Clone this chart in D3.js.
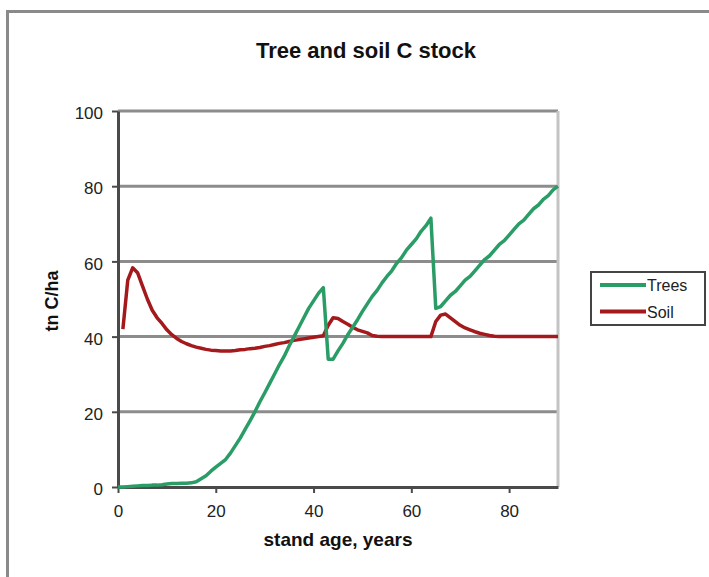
<!DOCTYPE html>
<html>
<head>
<meta charset="utf-8">
<script src="https://cdn.jsdelivr.net/npm/d3@7"></script>
<style>
  body { margin: 0; background: #fff; }
  svg { display: block; font-family: Arial, "Liberation Sans", sans-serif; }
</style>
</head>
<body>
<div id="chart"></div>
<script>
// stand age, years (annual steps)
var ages = [0, 1, 2, 3, 4, 5, 6, 7, 8, 9, 10, 11, 12, 13, 14, 15, 16, 17, 18, 19,
    20, 21, 22, 23, 24, 25, 26, 27, 28, 29, 30, 31, 32, 33, 34, 35, 36, 37, 38, 39,
    40, 41, 42, 43, 44, 45, 46, 47, 48, 49, 50, 51, 52, 53, 54, 55, 56, 57, 58, 59,
    60, 61, 62, 63, 64, 65, 66, 67, 68, 69, 70, 71, 72, 73, 74, 75, 76, 77, 78, 79,
    80, 81, 82, 83, 84, 85, 86, 87, 88, 89, 90];

// tree C stock, tn C/ha
var treesC = [0, 0, 0.1, 0.2, 0.3, 0.4, 0.4, 0.5, 0.5, 0.6, 0.8, 0.9, 0.9, 1.0, 1.0, 1.1, 1.4, 2.2, 3.0, 4.2,
    5.3, 6.3, 7.3, 9.0, 11.0, 13.0, 15.3, 17.6, 20.0, 22.6, 25.0, 27.5, 30.0, 32.5, 34.8, 37.5, 40.0, 42.5, 45.0, 47.5,
    49.5, 51.5, 53.0, 34.0, 34.0, 36.2, 38.2, 40.5, 42.5, 44.5, 46.7, 48.7, 50.7, 52.3, 54.3, 56.0, 57.5, 59.5, 61.0, 63.0,
    64.5, 66.0, 68.0, 69.5, 71.5, 47.5, 48.0, 49.5, 51.0, 52.0, 53.5, 55.0, 56.0, 57.5, 59.0, 60.5, 61.5, 63.0, 64.5, 65.5,
    67.0, 68.5, 70.0, 71.0, 72.5, 74.0, 75.0, 76.5, 77.5, 79.0, 80.0];

// soil C stock, tn C/ha (no value at age 0)
var soilC = [null, 42, 55, 58.3, 57, 53.5, 50, 47, 45, 43.5, 41.8, 40.5, 39.5, 38.7, 38.1, 37.6, 37.2, 36.9, 36.6, 36.4,
    36.3, 36.2, 36.2, 36.2, 36.3, 36.5, 36.6, 36.8, 36.9, 37.1, 37.4, 37.6, 37.9, 38.2, 38.4, 38.7, 39.0, 39.2, 39.4, 39.6,
    39.8, 40.0, 40.2, 43.0, 45.0, 44.8, 44.0, 43.3, 42.5, 41.8, 41.4, 41.0, 40.3, 40.1, 40, 40, 40, 40, 40, 40,
    40, 40, 40, 40, 40, 44.0, 45.7, 46.0, 45.0, 44.0, 43.0, 42.3, 41.8, 41.3, 40.9, 40.6, 40.3, 40.1, 40, 40,
    40, 40, 40, 40, 40, 40, 40, 40, 40, 40, 40];

var seriesNames = ["Trees", "Soil"];
var seriesColors = ["#2a9d66", "#a3191c"];
var xTicks = [0, 20, 40, 60, 80];
var yTicks = [0, 20, 40, 60, 80, 100];

var svgWidth = 709;
var svgHeight = 577;

var margin = {
    top: 111,
    left: 118,
    right: 151,
    bottom: 90
};

var width = svgWidth - margin.left - margin.right;
var height = svgHeight - margin.top - margin.bottom;

var svg = d3.select("#chart")
    .append("svg")
    .attr("width", svgWidth)
    .attr("height", svgHeight);

// outer chart frame (runs off the right and bottom edges)
svg.append("rect")
    .attr("x", 7.5)
    .attr("y", 11.5)
    .attr("width", 760)
    .attr("height", 640)
    .attr("fill", "none")
    .attr("stroke", "#8a8a8a")
    .attr("stroke-width", 3);

var chartGroup = svg.append("g")
    .attr("transform", `translate(${margin.left}, ${margin.top})`);

var xScale = d3.scaleLinear()
    .domain([0, 90])
    .range([0, width]);

var yScale = d3.scaleLinear()
    .domain([0, 100])
    .range([height, 0]);

// horizontal gridlines
chartGroup.append("g")
    .selectAll("line")
    .data(yTicks.filter(d => d > 0))
    .enter()
    .append("line")
    .attr("x1", 0)
    .attr("x2", width)
    .attr("y1", d => yScale(d))
    .attr("y2", d => yScale(d))
    .attr("stroke", "#8c8c8c")
    .attr("stroke-width", 3);

// right border of plot area
chartGroup.append("line")
    .attr("x1", width)
    .attr("x2", width)
    .attr("y1", yScale(100))
    .attr("y2", yScale(0))
    .attr("stroke", "#c4c4c4")
    .attr("stroke-width", 3);

// axes
var bottomAxis = d3.axisBottom(xScale)
    .tickValues(xTicks)
    .tickSizeInner(6)
    .tickSizeOuter(0)
    .tickPadding(12);

var leftAxis = d3.axisLeft(yScale)
    .tickValues(yTicks)
    .tickSizeInner(6)
    .tickSizeOuter(0)
    .tickPadding(9);

var xAxis = chartGroup.append("g")
    .attr("transform", `translate(0, ${height})`)
    .call(bottomAxis);

var yAxis = chartGroup.append("g")
    .call(leftAxis);

[xAxis, yAxis].forEach(function (ax) {
    ax.select(".domain")
        .attr("stroke", "#4a4a4a")
        .attr("stroke-width", 3);
    ax.selectAll(".tick line")
        .attr("stroke", "#4a4a4a")
        .attr("stroke-width", 2);
    ax.selectAll(".tick text")
        .attr("fill", "#222")
        .style("font-size", "17px")
        .style("font-family", "Arial, 'Liberation Sans', sans-serif");
});

yAxis.selectAll(".tick text").attr("dy", "0.45em");

// series lines
var treeLine = d3.line()
    .x((d, i) => xScale(ages[i]))
    .y(d => yScale(d));

var soilLine = d3.line()
    .defined(d => d !== null)
    .x((d, i) => xScale(ages[i]))
    .y(d => yScale(d));

chartGroup.append("path")
    .datum(soilC)
    .attr("d", soilLine)
    .attr("fill", "none")
    .attr("stroke", seriesColors[1])
    .attr("stroke-width", 3.5)
    .attr("stroke-linejoin", "round");

chartGroup.append("path")
    .datum(treesC)
    .attr("d", treeLine)
    .attr("fill", "none")
    .attr("stroke", seriesColors[0])
    .attr("stroke-width", 3.5)
    .attr("stroke-linejoin", "round");

// title
svg.append("text")
    .attr("x", 366)
    .attr("y", 58)
    .attr("text-anchor", "middle")
    .style("font-size", "22px")
    .style("font-weight", "bold")
    .attr("fill", "#111")
    .text("Tree and soil C stock");

// x axis label
svg.append("text")
    .attr("x", 338)
    .attr("y", 546)
    .attr("text-anchor", "middle")
    .style("font-size", "19px")
    .style("font-weight", "bold")
    .attr("fill", "#111")
    .text("stand age, years");

// y axis label
svg.append("text")
    .attr("transform", "translate(58, 301) rotate(-90)")
    .attr("text-anchor", "middle")
    .style("font-size", "18px")
    .style("font-weight", "bold")
    .attr("fill", "#111")
    .text("tn C/ha");

// legend
var legend = svg.append("g")
    .attr("transform", "translate(591, 272)");

legend.append("rect")
    .attr("x", 0)
    .attr("y", 0)
    .attr("width", 114)
    .attr("height", 53)
    .attr("fill", "#fff")
    .attr("stroke", "#444")
    .attr("stroke-width", 2);

seriesNames.forEach(function (name, i) {
    var ly = 13 + i * 26.5;
    legend.append("line")
        .attr("x1", 9)
        .attr("x2", 55)
        .attr("y1", ly)
        .attr("y2", ly)
        .attr("stroke", seriesColors[i])
        .attr("stroke-width", 4);
    legend.append("text")
        .attr("x", 56)
        .attr("y", ly + 6)
        .style("font-size", "16px")
        .attr("fill", "#222")
        .text(name);
});
</script>
</body>
</html>
